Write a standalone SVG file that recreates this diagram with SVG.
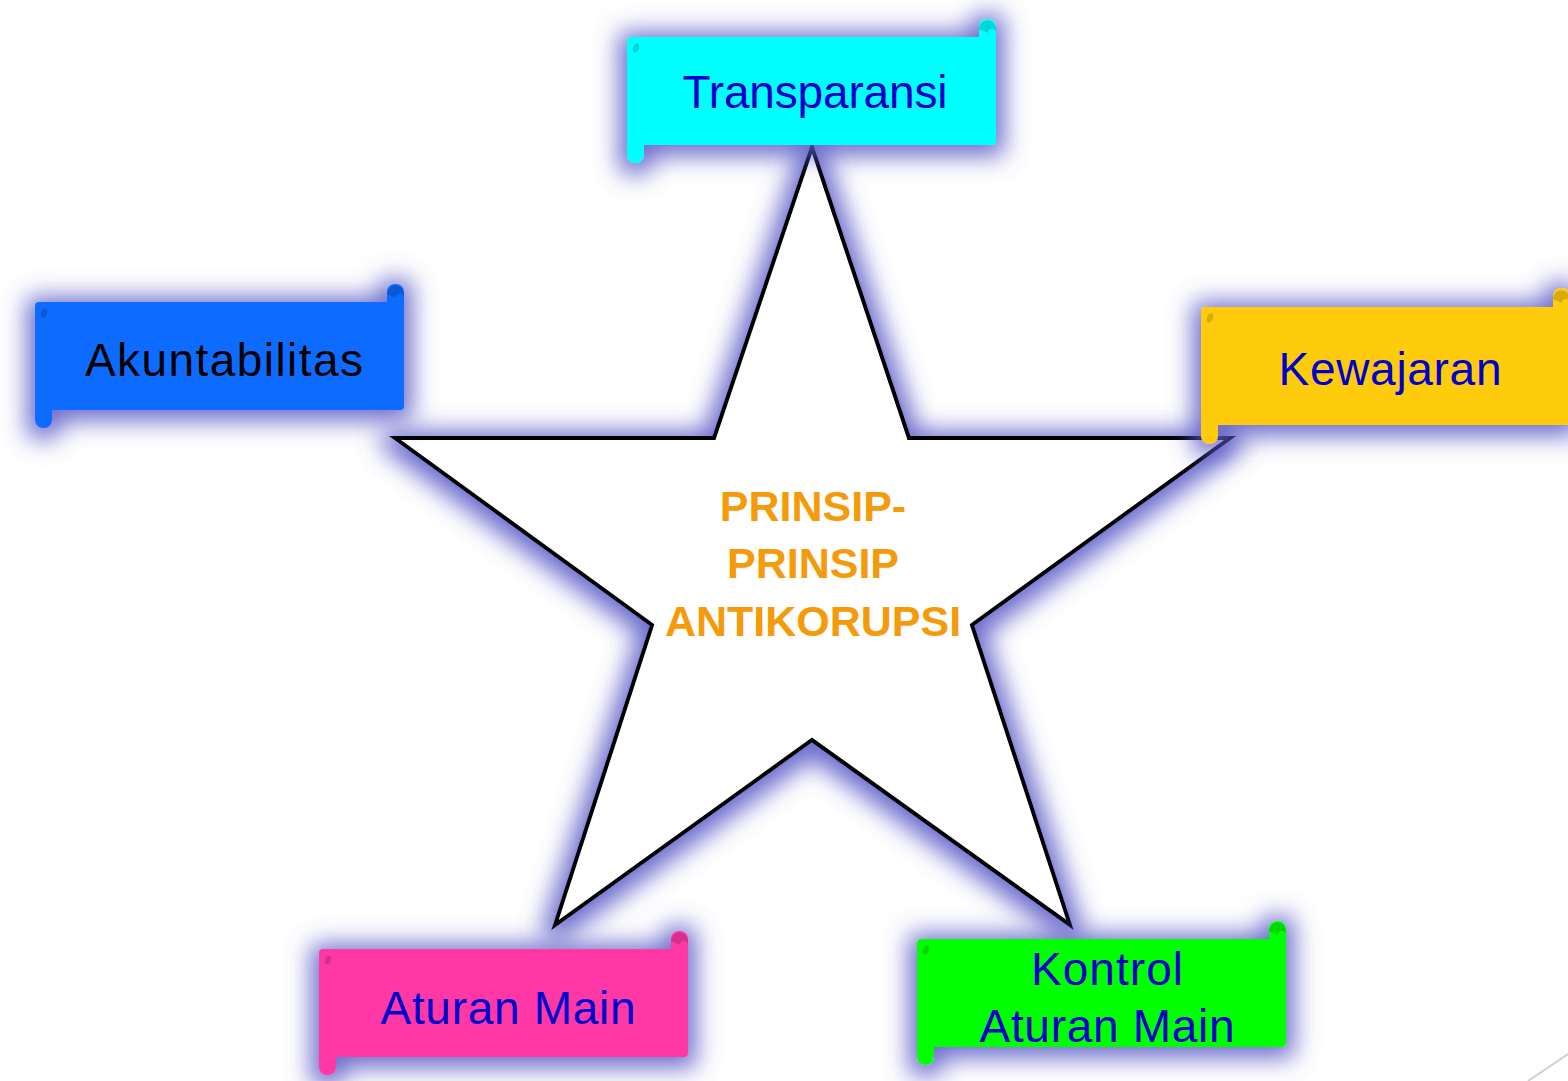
<svg xmlns="http://www.w3.org/2000/svg" xmlns:xlink="http://www.w3.org/1999/xlink" width="1568" height="1081" viewBox="0 0 1568 1081">
<defs>
<style>
.lbl{font-family:"Liberation Sans",Arial,sans-serif;font-size:46px;fill:#0000CC;text-anchor:middle}
.ctr{font-family:"Liberation Sans",Arial,sans-serif;font-size:43px;font-weight:bold;fill:#F59B0B;text-anchor:middle}
.mark{fill:#000;fill-opacity:0.16}
</style>
<filter id="glow" x="-35%" y="-60%" width="170%" height="220%">
<feMorphology in="SourceAlpha" operator="dilate" radius="8" result="d"/>
<feGaussianBlur in="d" stdDeviation="12" result="b"/>
<feOffset in="b" dx="0" dy="3" result="o"/>
<feFlood flood-color="#5C5CC8" flood-opacity="0.9"/>
<feComposite in2="o" operator="in" result="g"/>
<feMerge><feMergeNode in="g"/><feMergeNode in="SourceGraphic"/></feMerge>
</filter>
<g id="scroll">
<rect x="0" y="0" width="369" height="108" rx="4"/>
<rect x="0" y="0" width="17" height="126" rx="8"/>
<rect x="352" y="-18" width="17" height="126" rx="8"/>
</g>
<g id="scrollTall">
<rect x="0" y="0" width="369" height="118" rx="4"/>
<rect x="0" y="0" width="17" height="137" rx="8"/>
<rect x="352" y="-19" width="17" height="137" rx="8"/>
</g>
<g id="marks">
<ellipse class="mark" cx="9" cy="11" rx="3" ry="5" transform="rotate(20 9 11)"/>
<path class="mark" d="M352,-8 a8,8 0 0 1 17,0 l0,4 a4,4 0 0 0 -8,0 z"/>
</g>
</defs>
<rect width="1568" height="1081" fill="#FFFFFF"/>
<line x1="1528" y1="1081" x2="1568" y2="1054" stroke="#D0D0D0" stroke-width="2"/>
<g id="connectors"/>
<g id="star" filter="url(#glow)">
<polygon points="812,147 909,438 1230,438 972,625 1070,925 812,740 555,925 652,625 395,438 714,438" fill="#FFFFFF" stroke="#000000" stroke-width="4" stroke-linejoin="miter"/>
</g>
<g id="center-label">
<text class="ctr" x="813" y="521">PRINSIP-</text>
<text class="ctr" x="813" y="578">PRINSIP</text>
<text class="ctr" x="813" y="636">ANTIKORUPSI</text>
</g>
<g id="transparansi" transform="translate(627,37)">
<use xlink:href="#scroll" fill="#00FFFF" filter="url(#glow)"/>
<use xlink:href="#marks"/>
<text class="lbl" x="188" y="71" textLength="265">Transparansi</text>
</g>
<g id="akuntabilitas" transform="translate(35,302)">
<use xlink:href="#scroll" fill="#0A6CFF" filter="url(#glow)"/>
<use xlink:href="#marks"/>
<text class="lbl" x="189" y="74" textLength="278" style="fill:#000000">Akuntabilitas</text>
</g>
<g id="kewajaran" transform="translate(1201,307)">
<use xlink:href="#scrollTall" fill="#FFCC07" filter="url(#glow)"/>
<use xlink:href="#marks"/>
<text class="lbl" x="189" y="78" textLength="223">Kewajaran</text>
</g>
<g id="aturan-main" transform="translate(319,949)">
<use xlink:href="#scroll" fill="#FF37A6" filter="url(#glow)"/>
<use xlink:href="#marks"/>
<text class="lbl" x="189" y="75" textLength="255">Aturan Main</text>
</g>
<g id="kontrol-aturan-main" transform="translate(917,939)">
<use xlink:href="#scroll" fill="#00FF00" filter="url(#glow)"/>
<use xlink:href="#marks"/>
<text class="lbl" x="190" y="46" textLength="152">Kontrol</text>
<text class="lbl" x="190" y="103" textLength="255">Aturan Main</text>
</g>
</svg>
